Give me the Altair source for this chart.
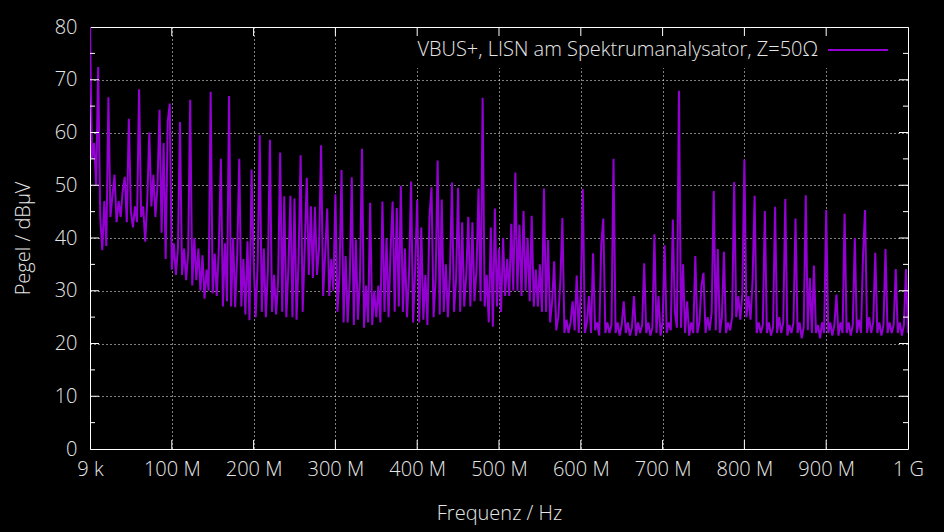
import altair as alt
import pandas as pd

# ---- measured levels (dBµV), one value per sweep point, 2.5 MHz spacing ----
seg_000_100 = [80, 55, 58, 50, 72.4, 44, 37.7, 47, 38.5, 66.7,
               44, 48, 52, 43, 47, 44, 49, 51.6, 43, 62.6,
               45, 42, 46, 43, 68.2, 44, 46, 39.3, 47, 60,
               46, 52, 44, 50, 64.3, 41, 58, 36, 62, 65.5]
seg_100_200 = [34, 39, 33, 38, 62, 33, 38, 32, 37, 66.2,
               31, 40, 32, 38, 30, 36.7, 28.5, 34, 30, 67.7,
               29.5, 37, 29, 38, 55, 27, 39, 28, 66.9, 27,
               40, 26.9, 37, 55, 27, 36, 25.5, 39.4, 24.4, 53]
seg_200_300 = [36, 25, 35, 59.5, 26, 38, 25, 34, 58.6, 26,
               33, 25.5, 32, 56.2, 26, 47.9, 25, 34, 48, 25,
               47.5, 24.5, 36, 55.7, 26, 38, 51.4, 33, 46, 32.4,
               45.9, 33, 38, 57.6, 29, 37, 45.6, 29, 36, 30]
seg_300_400 = [48.3, 26, 33, 52.9, 24, 36.6, 24, 32, 51.5, 23.5,
               39.7, 24.5, 32, 56.9, 23, 31, 24, 46.7, 23.5, 30,
               25, 31, 24, 46.9, 26, 40, 25, 38, 46.9, 26,
               45.7, 27, 49.9, 26, 38, 25, 33, 50.7, 24, 34]
seg_400_500 = [47.2, 24, 42, 24.5, 33, 23.5, 44, 49.6, 25, 32,
               54.7, 25.5, 47.3, 26, 35, 25, 33, 50.5, 26, 32,
               49.5, 26, 43, 27, 33, 44, 27, 43, 28, 34,
               49.4, 28, 66.6, 27, 33, 24, 42, 23.2, 45.6, 27]
seg_500_600 = [38, 26, 40, 29, 36, 29, 42.7, 30, 52.4, 30,
               42.5, 29, 45.1, 30, 40, 28, 44.2, 27, 34, 27,
               35, 26, 49.4, 26, 39.6, 24, 28, 35.6, 22.5, 25,
               31.7, 43.8, 22, 24.5, 22, 24, 28, 22.5, 32.9, 22]
seg_600_700 = [30, 49.3, 22, 24, 29, 22, 37.1, 22.5, 24, 21.5,
               38.7, 43.7, 22, 24, 22, 23.5, 55, 22, 24, 21.5,
               23.5, 28, 22, 24, 21.5, 23, 29, 21.5, 24, 22,
               23.5, 35.2, 22, 24, 21.5, 23, 40.7, 22, 29, 21.5]
seg_700_800 = [24, 38.6, 22, 24, 22.5, 43.5, 26, 23, 67.9, 23,
               35, 22, 28, 21.5, 24, 22, 36.6, 22, 24, 31,
               33.4, 22, 25, 22.5, 26, 48.9, 22.5, 37.9, 22, 25,
               37.4, 22, 24, 22.5, 25, 50.6, 25, 29, 24.5, 29.5]
seg_800_900 = [54.9, 25, 29, 24.5, 32, 48, 22, 24, 22, 23.5,
               45.1, 22, 24, 21.5, 23, 45.9, 22, 25, 22, 24,
               47.4, 21.5, 23.5, 22, 24, 43.7, 22, 24, 21, 23,
               48.1, 22.5, 32.4, 22, 34.8, 22, 23.5, 21, 24, 22]
seg_900_1000 = [45.3, 22, 24, 21.5, 23.5, 29.3, 21.5, 24, 22, 44.6,
                22, 24, 21.5, 23.5, 40, 22, 24.5, 22, 36.6, 45.3,
                22, 25, 22, 24, 37.2, 22, 24, 21.5, 23.5, 37.9,
                22, 24, 22, 23.5, 34.1, 22, 24, 21.5, 23.5, 34.1,
                22]

levels = (seg_000_100 + seg_100_200 + seg_200_300 + seg_300_400 + seg_400_500
          + seg_500_600 + seg_600_700 + seg_700_800 + seg_800_900 + seg_900_1000)
start_hz = 9e3
step_hz = 2.5e6
freq_hz = [start_hz] + [k * step_hz for k in range(1, len(levels))]

x_tick_values = [9e3, 1e8, 2e8, 3e8, 4e8, 5e8, 6e8, 7e8, 8e8, 9e8, 1e9]
x_tick_labels = ["9 k", "100 M", "200 M", "300 M", "400 M", "500 M",
                 "600 M", "700 M", "800 M", "900 M", "1 G"]
y_grid_values = [0, 5, 10, 15, 20, 25, 30, 35, 40, 45, 50, 55, 60, 65, 70, 75, 80]
y_major_inner = [10, 20, 30, 40, 50, 60, 70]
y_minor_inner = [5, 15, 25, 35, 45, 55, 65, 75]
x_inner_ticks = [1e8, 2e8, 3e8, 4e8, 5e8, 6e8, 7e8, 8e8, 9e8]

series_label = "VBUS+, LISN am Spektrumanalysator, Z=50\u03a9"
x_title = "Frequenz / Hz"
y_title = "Pegel / dB\u03bcV"

LINE = "#9400D3"
TXT = "#e6e6e6"
FONT = "Open Sans"
FS = 20
W, H = 818, 422

label_expr = ""
for v, lab in zip(x_tick_values, x_tick_labels):
    label_expr += f"datum.value == {int(v)} ? '{lab}' : "
label_expr += "''"

df = pd.DataFrame({"f": freq_hz, "L": levels})

x_scale = alt.Scale(domain=[9e3, 1e9], nice=False, zero=False)
y_scale = alt.Scale(domain=[0, 80], nice=False, zero=True)

x_axis = alt.Axis(values=x_tick_values, labelExpr=label_expr, grid=True,
                  gridDash=[1, 3], gridColor="#ffffff", gridOpacity=1, gridWidth=1,
                  ticks=False, domain=False, labelFontSize=FS, labelColor=TXT,
                  labelFont=FONT, labelFontWeight=300, labelPadding=10,
                  labelFlush=False, labelOverlap=False,
                  titleFontSize=FS, titleFont=FONT, titleColor=TXT,
                  titleFontWeight=300, titlePadding=24)
y_axis = alt.Axis(values=y_grid_values,
                  labelExpr="datum.value % 10 == 0 ? datum.value : ''",
                  grid=True, gridDash=[1, 3], gridColor="#ffffff", gridOpacity=1,
                  gridWidth=1, ticks=False, domain=False, labelFontSize=FS,
                  labelColor=TXT, labelFont=FONT, labelFontWeight=300, labelPadding=13,
                  labelOverlap=False, labelFlush=False,
                  titleFontSize=FS, titleFont=FONT, titleColor=TXT,
                  titleFontWeight=300, titlePadding=21)

line = alt.Chart(df).mark_line(color=LINE, strokeWidth=2, clip=True).encode(
    x=alt.X("f:Q", scale=x_scale, axis=x_axis, title=x_title),
    y=alt.Y("L:Q", scale=y_scale, axis=y_axis, title=y_title),
)

one = pd.DataFrame({"k": [0]})
key_box = alt.Chart(one).mark_rect(color="black").encode(
    x=alt.value(274), x2=alt.value(808), y=alt.value(1), y2=alt.value(41))
key_text = alt.Chart(one).mark_text(align="right", baseline="middle", fontSize=FS,
                                    font=FONT, fontWeight=300, color=TXT).encode(
    x=alt.value(728), y=alt.value(23), text=alt.value(series_label))
key_line = alt.Chart(one).mark_rule(color=LINE, strokeWidth=2).encode(
    x=alt.value(738), x2=alt.value(798), y=alt.value(23))

ymaj = pd.DataFrame({"v": y_major_inner})
ymin = pd.DataFrame({"v": y_minor_inner})
xin = pd.DataFrame({"f": x_inner_ticks})

def ytick(d, x0, x1):
    return alt.Chart(d).mark_rule(color="white", strokeWidth=1).encode(
        y=alt.Y("v:Q", scale=y_scale, title=y_title), x=alt.value(x0), x2=alt.value(x1))

def xtick(y0, y1):
    return alt.Chart(xin).mark_rule(color="white", strokeWidth=1).encode(
        x=alt.X("f:Q", scale=x_scale, title=x_title), y=alt.value(y0), y2=alt.value(y1))

chart = alt.layer(
    line, key_box, key_text, key_line,
    ytick(ymaj, 0, 9), ytick(ymaj, W - 9, W),
    ytick(ymin, 0, 5), ytick(ymin, W - 5, W),
    xtick(0, 9), xtick(H - 9, H),
).properties(
    width=W, height=H,
    background="black",
    padding={"left": 90, "top": 27, "right": 36, "bottom": 83},
    autosize=alt.AutoSizeParams(type="none"),
).configure_view(stroke="white", strokeWidth=1)

chart.save("out.html", embed_options={"renderer": "svg", "actions": False})
